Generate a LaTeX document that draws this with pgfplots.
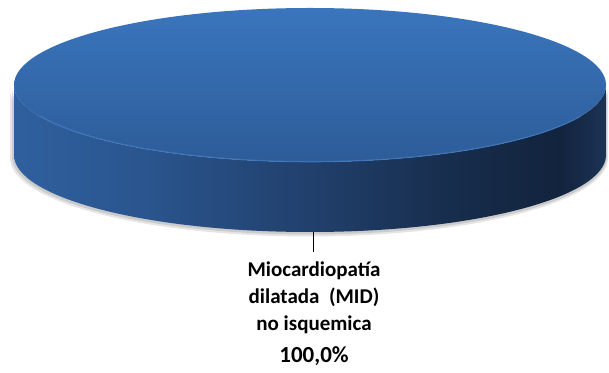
\documentclass[border=0pt]{standalone}
\usepackage{pgfplots}
\pgfplotsset{compat=1.18}
\usepackage{pgfplotstable}
\usepackage{fontspec}
\setmainfont{Carlito}
\definecolor{topA}{HTML}{3A75BD}
\definecolor{topB}{HTML}{2D5C98}
\definecolor{sA}{HTML}{2F609E}
\definecolor{sB}{HTML}{2A558E}
\definecolor{sC}{HTML}{21406C}
\definecolor{sD}{HTML}{172D4C}
\definecolor{sE}{HTML}{12233D}
\definecolor{sF}{HTML}{1C3355}
\definecolor{rim}{HTML}{4079C0}
\pgfdeclarehorizontalshading{sideshade}{100bp}{
  color(0bp)=(sA); color(25bp)=(sA); color(36bp)=(sB); color(50bp)=(sC);
  color(62bp)=(sD); color(71bp)=(sE); color(75bp)=(sF); color(100bp)=(sF)}
\pgfplotstableread{
label value
MID 100
}\pietable
\begin{document}
\begin{tikzpicture}
\begin{axis}[width=609pt,height=372pt,scale only axis,hide axis,
  xmin=0,xmax=609,ymin=0,ymax=372,clip=false]
\path (rel axis cs:0,0) rectangle (rel axis cs:1,1);
% shadow (soft, slightly offset)
\fill[black!40,opacity=0.25] (axis cs:10,214) -- (axis cs:10,283) arc[start angle=180,end angle=360,x radius=299pt,y radius=78.5pt] -- (axis cs:608,214) arc[start angle=0,end angle=-180,x radius=299pt,y radius=78.5pt] -- cycle;
\fill[black!40,opacity=0.35] (axis cs:12,215) -- (axis cs:12,284) arc[start angle=180,end angle=360,x radius=297.5pt,y radius=77.5pt] -- (axis cs:607,215) arc[start angle=0,end angle=-180,x radius=297.5pt,y radius=77.5pt] -- cycle;
% side
\shade[shading=sideshade] (axis cs:14,287) -- (axis cs:14,217) arc[start angle=180,end angle=360,x radius=296pt,y radius=77pt] -- (axis cs:606,287) arc[start angle=0,end angle=-180,x radius=296pt,y radius=77pt] -- cycle;
% top face
\shade[top color=topA,bottom color=topB] (axis cs:310,287) ellipse[x radius=296pt,y radius=77pt];
\draw[rim,line width=1.2pt,opacity=0.8] (axis cs:40,256) arc[start angle=204,end angle=336,x radius=296pt,y radius=77pt];
% leader and label
\addplot[black,line width=0.8pt] coordinates {(313,140) (313,120)};
\node[font=\bfseries\fontsize{21}{25}\selectfont] at (axis cs:314,101) {Miocardiopat\'ia};
\node[font=\bfseries\fontsize{21}{25}\selectfont] at (axis cs:314,75) {dilatada\ \ (MID)};
\node[font=\bfseries\fontsize{21}{25}\selectfont] at (axis cs:314,47) {no isquemica};
\node[font=\bfseries\fontsize{23}{27}\selectfont] at (axis cs:314,16) {100,0\%};
\end{axis}
\end{tikzpicture}
\end{document}
